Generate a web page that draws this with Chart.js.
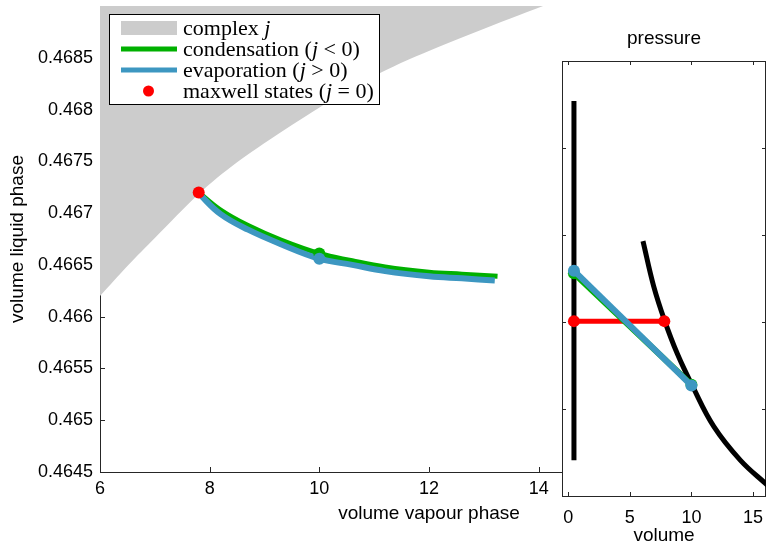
<!DOCTYPE html>
<html>
<head>
<meta charset="utf-8">
<script src="https://cdn.jsdelivr.net/npm/chart.js@4.4.1/dist/chart.umd.min.js"></script>
<style>
  html, body { margin: 0; padding: 0; background: #fff; }
  #wrap { position: relative; width: 766px; height: 545px; overflow: hidden; }
  #main { position: absolute; left: 0; top: 0; }
  #inset { position: absolute; left: 540px; top: 0; }
</style>
</head>
<body>
<div id="wrap">
  <canvas id="main" width="766" height="545"></canvas>
  <canvas id="inset" width="226" height="545"></canvas>
</div>
<script>
// ---- main plot: liquid volume vs vapour volume ----
const complexVap = [6, 6.5, 7, 7.81, 8.5, 9.5, 10.5, 11.62, 14.08, 16, 18];
const complexLiq = [0.4662, 0.46649, 0.46676, 0.46719, 0.46749, 0.46785, 0.46818, 0.46848, 0.469, 0.46935, 0.4697];

const condVap = [7.8, 8.2, 8.7, 9.3, 10.0, 10.6, 11.2, 12.0, 12.6, 13.25];
const condLiq = [0.4672, 0.46703, 0.46688, 0.46674, 0.46661, 0.46654, 0.46648, 0.46643, 0.46641, 0.46639];
const evapVap = [7.8, 8.2, 8.7, 9.3, 10.0, 10.6, 11.2, 12.0, 12.6, 13.2];
const evapLiq = [0.46719, 0.46699, 0.46684, 0.4667, 0.46656, 0.4665, 0.46644, 0.46639, 0.46637, 0.46635];

const maxwellVap = [7.8];
const maxwellLiq = [0.4672];
const condDotVap = [10.0];
const condDotLiq = [0.46661];
const evapDotVap = [10.0];
const evapDotLiq = [0.46656];

// ---- inset: pressure vs volume ----
const liquidV = [0.47, 0.47];
const liquidP = [4.54, 0.41];
const vapourV = [6.07, 6.94, 7.84, 8.84, 10.1, 11.81, 13.98, 16.2];
const vapourP = [2.93, 2.41, 2.01, 1.64, 1.26, 0.80, 0.41, 0.12];
const maxwellV = [0.4672, 7.8];
const maxwellP = [2.01, 2.01];
const condV = [0.4666, 10.0];
const condP = [2.56, 1.28];
const evapV = [0.4666, 10.0];
const evapP = [2.59, 1.27];

const GREEN = '#00b000';
const BLUE = '#3d97c1';
const RED = '#ff0000';
const GRAY = '#cccccc';
const SANS = "'Liberation Sans', Arial, Helvetica, sans-serif";
const SERIF = "'Liberation Serif', 'Times New Roman', serif";

const pts = (xs, ys) => xs.map((x, i) => ({ x: x, y: ys[i] }));

// no extra room for half tick labels, the plot box is set by hand
const noPad = s => { s.paddingTop = 0; s.paddingBottom = 0; s.paddingLeft = 0; s.paddingRight = 0; };

// inward tick marks (and optional box), drawn under the data like matlab
const inTicks = {
  id: 'inTicks',
  beforeDraw(chart, args, opts) {
    if (!opts.whiteArea) return;
    const { ctx, chartArea: a } = chart;
    ctx.save();
    ctx.fillStyle = '#fff';
    ctx.fillRect(a.left, a.top, a.right - a.left, a.bottom - a.top);
    ctx.restore();
  },
  beforeDatasetsDraw(chart, args, opts) {
    const { ctx, chartArea: a, scales } = chart;
    const len = opts.length || 5;
    ctx.save();
    ctx.strokeStyle = '#262626';
    ctx.lineWidth = 1;
    ctx.beginPath();
    scales.x.ticks.forEach(t => {
      const px = Math.round(scales.x.getPixelForValue(t.value)) + 0.5;
      ctx.moveTo(px, a.bottom); ctx.lineTo(px, a.bottom - len);
      if (opts.mirror) { ctx.moveTo(px, a.top); ctx.lineTo(px, a.top + len); }
    });
    scales.y.ticks.forEach(t => {
      const py = Math.round(scales.y.getPixelForValue(t.value)) + 0.5;
      ctx.moveTo(a.left, py); ctx.lineTo(a.left + len, py);
      if (opts.mirror) { ctx.moveTo(a.right, py); ctx.lineTo(a.right - len, py); }
    });
    ctx.stroke();
    if (opts.frame) {
      ctx.strokeRect(Math.round(a.left) + 0.5, Math.round(a.top) + 0.5,
        Math.round(a.right - a.left) - 1, Math.round(a.bottom - a.top));
    }
    ctx.restore();
  }
};

// legend box in the top left corner of the main plot
const legendItems = [
  { kind: 'box', color: GRAY, parts: [['complex ', false], ['j', true]] },
  { kind: 'line', color: GREEN, parts: [['condensation (', false], ['j', true], [' < 0)', false]] },
  { kind: 'line', color: BLUE, parts: [['evaporation (', false], ['j', true], [' > 0)', false]] },
  { kind: 'dot', color: RED, parts: [['maxwell states (', false], ['j', true], [' = 0)', false]] }
];

const boxLegend = {
  id: 'boxLegend',
  afterDraw(chart) {
    const ctx = chart.ctx;
    const x0 = 109.5, y0 = 14.5, w = 270, h = 90;
    const rows = [28, 49, 70, 91];
    ctx.save();
    ctx.fillStyle = '#fff';
    ctx.fillRect(x0, y0, w, h);
    ctx.strokeStyle = '#000';
    ctx.lineWidth = 1;
    ctx.strokeRect(x0, y0, w, h);
    legendItems.forEach((it, i) => {
      const cy = rows[i];
      if (it.kind === 'box') {
        ctx.fillStyle = it.color;
        ctx.fillRect(121, cy - 7, 56, 14);
      } else if (it.kind === 'line') {
        ctx.strokeStyle = it.color;
        ctx.lineWidth = 5;
        ctx.beginPath(); ctx.moveTo(121, cy); ctx.lineTo(177, cy); ctx.stroke();
      } else {
        ctx.fillStyle = it.color;
        ctx.beginPath(); ctx.arc(148.5, cy, 5.5, 0, Math.PI * 2); ctx.fill();
      }
      let tx = 183;
      ctx.fillStyle = '#000';
      ctx.textBaseline = 'middle';
      it.parts.forEach(([s, ital]) => {
        ctx.font = (ital ? 'italic ' : '') + '22px ' + SERIF;
        ctx.fillText(s, tx, cy + 1);
        tx += ctx.measureText(s).width;
      });
    });
    ctx.restore();
  }
};

const fmt = v => (Math.abs(v - 0.469) < 1e-9 ? '' : String(+v.toFixed(4)));

new Chart(document.getElementById('main'), {
  type: 'line',
  data: {
    datasets: [
      { label: 'complex j', data: pts(complexVap, complexLiq), borderWidth: 0, pointRadius: 0,
        backgroundColor: GRAY, borderColor: GRAY, fill: 'end', tension: 0.3, order: 6 },
      { label: 'condensation', data: pts(condVap, condLiq), borderColor: GREEN, borderWidth: 5,
        pointRadius: 0, tension: 0.4, fill: false, order: 5 },
      { label: 'evaporation', data: pts(evapVap, evapLiq), borderColor: BLUE, borderWidth: 6,
        pointRadius: 0, tension: 0.4, fill: false, order: 4 },
      { label: 'cond state', data: pts(condDotVap, condDotLiq), showLine: false, pointRadius: 6,
        pointBackgroundColor: GREEN, pointBorderWidth: 0, order: 3 },
      { label: 'evap state', data: pts(evapDotVap, evapDotLiq), showLine: false, pointRadius: 6,
        pointBackgroundColor: BLUE, pointBorderWidth: 0, order: 2 },
      { label: 'maxwell states', data: pts(maxwellVap, maxwellLiq), showLine: false, pointRadius: 6,
        pointBackgroundColor: RED, pointBorderWidth: 0, order: 1 }
    ]
  },
  options: {
    responsive: false,
    animation: false,
    layout: { autoPadding: false, padding: { top: 6, right: 8, left: 0, bottom: 0 } },
    plugins: {
      legend: { display: false },
      tooltip: { enabled: false },
      inTicks: { length: 5 }
    },
    scales: {
      x: {
        type: 'linear', min: 6, max: 18,
        grid: { display: false, drawTicks: false },
        border: { display: true, color: '#262626', width: 1 },
        ticks: { stepSize: 2, padding: 6, color: '#000', font: { family: SANS, size: 18 } },
        title: { display: true, text: 'volume vapour phase', color: '#000',
                 font: { family: SANS, size: 19, lineHeight: 1 }, padding: { top: 0, bottom: 22 } },
        afterFit: s => { s.height = 73; noPad(s); }
      },
      y: {
        type: 'linear', min: 0.4645, max: 0.469,
        grid: { display: false, drawTicks: false },
        border: { display: true, color: '#262626', width: 1 },
        ticks: { stepSize: 0.0005, padding: 7, color: '#000', font: { family: SANS, size: 18 },
                 callback: v => fmt(v) },
        title: { display: true, text: 'volume liquid phase', color: '#000',
                 font: { family: SANS, size: 19, lineHeight: 1 }, padding: { top: 8, bottom: 0 } },
        afterFit: s => { s.width = 100; noPad(s); }
      }
    }
  },
  plugins: [inTicks, boxLegend]
});

new Chart(document.getElementById('inset'), {
  type: 'line',
  data: {
    datasets: [
      { label: 'liquid branch', data: pts(liquidV, liquidP), borderColor: '#000', borderWidth: 5,
        pointRadius: 0, fill: false, order: 6 },
      { label: 'vapour branch', data: pts(vapourV, vapourP), borderColor: '#000', borderWidth: 5,
        pointRadius: 0, tension: 0.4, fill: false, order: 5 },
      { label: 'maxwell', data: pts(maxwellV, maxwellP), borderColor: RED, borderWidth: 5,
        pointRadius: 6, pointBackgroundColor: RED, pointBorderWidth: 0, fill: false, order: 3 },
      { label: 'condensation', data: pts(condV, condP), borderColor: GREEN, borderWidth: 6,
        pointRadius: 6, pointBackgroundColor: GREEN, pointBorderWidth: 0, fill: false, order: 2 },
      { label: 'evaporation', data: pts(evapV, evapP), borderColor: BLUE, borderWidth: 6,
        pointRadius: 6, pointBackgroundColor: BLUE, pointBorderWidth: 0, fill: false, order: 1 }
    ]
  },
  options: {
    responsive: false,
    animation: false,
    layout: { autoPadding: false, padding: { top: 0, right: 0, left: 0, bottom: 0 } },
    plugins: {
      legend: { display: false },
      tooltip: { enabled: false },
      title: { display: true, text: 'pressure', color: '#000', fullSize: false,
               font: { family: SANS, size: 19, weight: 'normal', lineHeight: 1 },
               padding: { top: 29, bottom: 13 } },
      inTicks: { length: 4, mirror: true, frame: true, whiteArea: true }
    },
    scales: {
      x: {
        type: 'linear', min: -0.5, max: 16.05,
        grid: { display: false, drawTicks: false },
        border: { display: false },
        ticks: { stepSize: 5, includeBounds: false, padding: 11, color: '#000',
                 font: { family: SANS, size: 18 } },
        title: { display: true, text: 'volume', color: '#000',
                 font: { family: SANS, size: 19, lineHeight: 1 }, padding: { top: 0, bottom: 0 } },
        afterFit: s => { s.height = 49; noPad(s); }
      },
      y: {
        type: 'linear', min: 0, max: 5,
        grid: { display: false, drawTicks: false },
        border: { display: false },
        ticks: { stepSize: 1, display: false },
        afterFit: s => { s.width = 22; noPad(s); }
      }
    }
  },
  plugins: [inTicks]
});
</script>
</body>
</html>
